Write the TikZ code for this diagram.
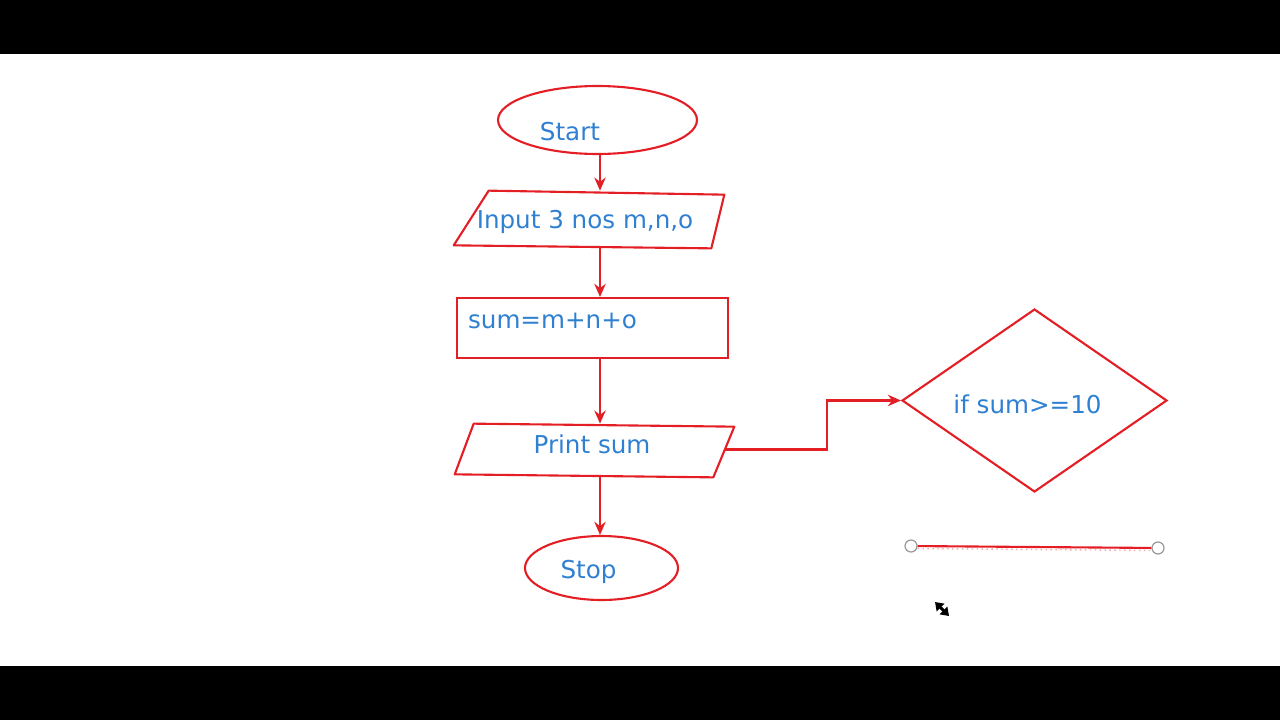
\documentclass[tikz,border=0pt]{standalone}
\usepackage{fontspec}
\setmainfont{DejaVu Sans}
\usetikzlibrary{shapes.geometric, arrows.meta, calc}
\definecolor{fcRed}{HTML}{E31E24}
\definecolor{fcBlue}{HTML}{2F80D1}
\definecolor{fcGray}{HTML}{9A9A9A}
\definecolor{fcPink}{HTML}{F4A6AC}
\tikzset{
  >={Stealth[length=7.5pt, width=6.5pt, inset=2.5pt]},
  shp/.style={draw=fcRed, line width=1.2pt, inner sep=0pt, fill=white},
  terminal/.style={shp, ellipse},
  iobox/.style={rectangle, inner sep=0pt},
  ioedge/.style={draw=fcRed, line width=1.2pt, line join=round},
  proc/.style={shp, rectangle},
  decide/.style={shp, diamond},
  txt/.style={text=fcBlue, font=\fontsize{14}{17}\selectfont, inner sep=0pt, text depth=0pt},
  flow/.style={->, line width=1.2pt, draw=fcRed},
  handle/.style={circle, draw=fcGray, fill=white, line width=0.7pt,
    minimum size=0.24cm, inner sep=0pt},
}
\begin{document}
\begin{tikzpicture}[x=0.02cm, y=-0.02cm]

  \useasboundingbox (0,0) rectangle (1280,720);
  \fill[black] (0,0) rectangle (1280,54);
  \fill[black] (0,666) rectangle (1280,720);

  % ---- Main column ---------------------------------------------------------
  \coordinate (spine) at (600,0);
  \node[terminal, minimum width=3.98cm, minimum height=1.36cm,
    label={[txt, xshift=-0.55cm, yshift=-0.22cm]center:Start}] (start) at (597.5,120) {};

  \node[iobox, minimum width=5.4cm, minimum height=1.14cm] (inp) at (589,219.5) {};
  \draw[ioedge] ($(inp.north west)+(35,0)$) -- ($(inp.north east)+(0,4)$)
    -- ($(inp.south east)+(-13,0)$) -- ($(inp.south west)+(0,-3)$) -- cycle;
  \node[txt] (inpT) at ($(inp)+(-4,0)$) {Input 3 nos m,n,o};

  \node[proc, minimum width=5.42cm, minimum height=1.2cm,
    label={[txt, xshift=-0.8cm, yshift=0.15cm]center:sum=m+n+o}] (sum) at (592.5,328) {};

  \node[iobox, minimum width=5.58cm, minimum height=1.06cm] (prn) at (594.5,450.5) {};
  \draw[ioedge] ($(prn.north west)+(19,0)$) -- ($(prn.north east)+(0,3)$)
    -- ($(prn.south east)+(-21,0)$) -- ($(prn.south west)+(0,-3)$) -- cycle;
  \node[txt] (prnT) at ($(prn)+(-2.5,-6.5)$) {Print sum};

  \node[terminal, minimum width=3.06cm, minimum height=1.28cm,
    label={[txt, xshift=-0.26cm, yshift=-0.02cm]center:Stop}] (stop) at (601.5,568) {};

  \draw[flow] (start.south -| spine) -- (inp.north -| spine);
  \draw[flow] (inp.south -| spine) -- (sum.north -| spine);
  \draw[flow] (sum.south -| spine) -- (prn.north -| spine);
  \draw[flow] (prn.south -| spine) -- (stop.north -| spine);

  % ---- Decision on the right -----------------------------------------------
  \node[decide, minimum width=5.3cm, minimum height=3.66cm,
    label={[txt, xshift=-0.14cm, yshift=-0.07cm]center:if sum>=10}] (test) at (1034.5,400.5) {};
  \coordinate (prnR) at ($(prn.east)+(-9.5,-1)$);
  \coordinate (bend) at (827,0);
  \draw[flow] (prnR) -| (bend |- test.west) -- (test.west);

  % ---- Loose line with its handles -----------------------------------------
  \node[handle] (hA) at (911,546) {};
  \node[handle] (hB) at (1158,548) {};
  \draw[fcPink, dotted, line width=0.8pt] ($(hA.east)+(0,2.5)$) -- ($(hB.west)+(0,2.5)$);
  \draw[fcRed, line width=1.2pt] (hA) -- (hB);

  % resize cursor
  \coordinate (curA) at (935,602);
  \coordinate (curB) at (949,616);
  \draw[line width=1.8pt, {Triangle[length=4.5pt, width=6pt]}-{Triangle[length=4.5pt, width=6pt]}] (curA) -- (curB);

\end{tikzpicture}
\end{document}
